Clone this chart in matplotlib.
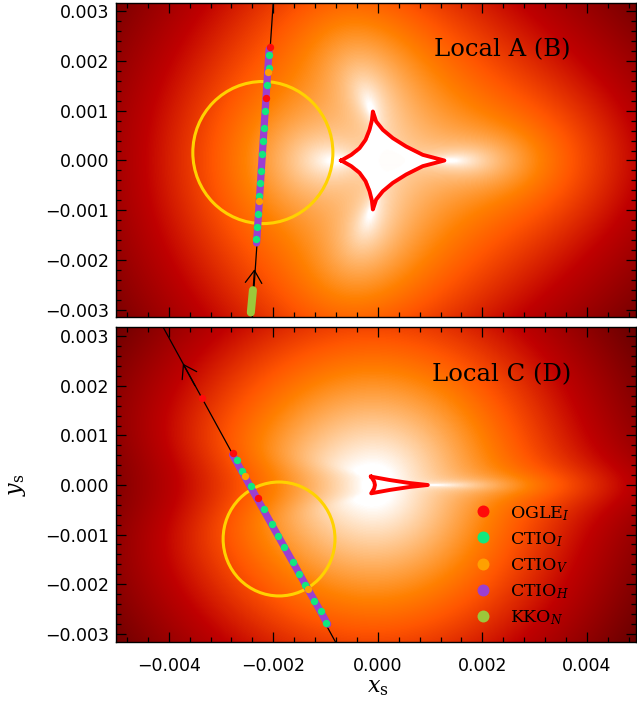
import numpy as np
import matplotlib
matplotlib.use("Agg")
import matplotlib.pyplot as plt
from matplotlib.patches import Ellipse
from matplotlib.colors import Normalize
from matplotlib.ticker import MultipleLocator, FuncFormatter

plt.rcParams['font.family'] = ['DejaVu Sans']
plt.rcParams['mathtext.fontset'] = 'dejavuserif'

# binary-lens models used for the background maps (s, q)
lens_top = (5.0, 0.0115)
lens_bot = (1.32, 7.9e-5)

# ---------------- top panel: Local A (B) ----------------
top_caustic_x = [-0.000700, -0.000509, -0.000350, -0.000235, -0.000159, -0.000114, -0.000095,
                 -0.000032, 0.000096, 0.000287, 0.000542, 0.000860, 0.001274,
                 0.000860, 0.000542, 0.000287, 0.000096, -0.000032,
                 -0.000095, -0.000114, -0.000159, -0.000235, -0.000350, -0.000509, -0.000700]
top_caustic_y = [0.0, 0.000114, 0.000248, 0.000416, 0.000618, 0.000805, 0.000986,
                 0.000785, 0.000618, 0.000450, 0.000282, 0.000114, 0.0,
                 -0.000114, -0.000282, -0.000450, -0.000618, -0.000785,
                 -0.000986, -0.000805, -0.000618, -0.000416, -0.000248, -0.000114, 0.0]
top_track_x = [-0.00200, -0.00241]
top_track_y = [0.00320, -0.00320]
top_arrow = (-0.00236, -0.00219)
top_source = (-0.00220, 0.00016, 0.00134, 0.00143)   # centre x, centre y, rx, ry
top_ogle_x = [-0.00207, -0.00214]
top_ogle_y = [0.00229, 0.00126]
top_ctioI_x = [-0.00208, -0.00209, -0.00212, -0.00215, -0.00218, -0.00219, -0.00221,
               -0.00223, -0.00225, -0.00227, -0.00229, -0.00231, -0.00233]
top_ctioI_y = [0.00213, 0.00187, 0.00152, 0.00100, 0.00066, 0.00040, 0.00014,
               -0.00021, -0.00046, -0.00072, -0.00108, -0.00133, -0.00158]
top_ctioV_x = [-0.00210, -0.00228]
top_ctioV_y = [0.00178, -0.00081]
top_ctioH_x = [-0.00208, -0.00232]
top_ctioH_y = [0.00224, -0.00166]
top_kko_x = [-0.00239, -0.00243]
top_kko_y = [-0.00261, -0.00306]
# colour level (0..1 of gist_heat) read at two map positions
top_probe_x = [-0.00500, 0.00230]
top_probe_y = [0.00310, 0.00108]
top_probe_c = [0.33, 0.72]

# ---------------- bottom panel: Local C (D) ----------------
bot_caustic_x = [-0.000127, 0.000223, 0.000606, 0.000956, 0.000606, 0.000223, -0.000127,
                 -0.000070, -0.000055, -0.000070, -0.000127]
bot_caustic_y = [0.000168, 0.000101, 0.000040, 0.0, -0.000040, -0.000101, -0.000168,
                 -0.000070, 0.0, 0.000070, 0.000168]
bot_track_x = [-0.00411, -0.00081]
bot_track_y = [0.00319, -0.00317]
bot_arrow = (-0.00373, 0.00245)
bot_source = (-0.00189, -0.00109, 0.00107, 0.00115)
bot_ogle_x = [-0.00336, -0.00278, -0.00230]
bot_ogle_y = [0.00176, 0.00065, -0.00027]
bot_ctioI_x = [-0.00270, -0.00259, -0.00242, -0.00218, -0.00202, -0.00191, -0.00180,
               -0.00162, -0.00151, -0.00139, -0.00123, -0.00108, -0.00099]
bot_ctioI_y = [0.00050, 0.00028, -0.00002, -0.00049, -0.00079, -0.00103, -0.00125,
               -0.00156, -0.00179, -0.00201, -0.00234, -0.00255, -0.00278]
bot_ctioV_x = [-0.00255, -0.00134]
bot_ctioV_y = [0.00019, -0.00209]
bot_ctioH_x = [-0.00278, -0.00096]
bot_ctioH_y = [0.00061, -0.00281]
bot_probe_x = [-0.00500, 0.00140]
bot_probe_y = [0.00150, 0.00150]
bot_probe_c = [0.377, 0.775]

labels = ['OGLE$_{I}$', 'CTIO$_{I}$', 'CTIO$_{V}$', 'CTIO$_{H}$', 'KKO$_{N}$']
colors = ['#ff0a0a', '#12e87e', '#ffa000', '#9b3fd0', '#9cc83a']

xlim = (-0.00501, 0.00494)
ylim_top = (-0.00315, 0.00317)
ylim_bot = (-0.00317, 0.00319)


def pmul(a, b):
    out = [0] * (len(a) + len(b) - 1)
    for i, ai in enumerate(a):
        for j, bj in enumerate(b):
            out[i + j] = out[i + j] + ai * bj
    return out


def padd(a, b):
    n = max(len(a), len(b))
    a = list(a) + [0] * (n - len(a))
    b = list(b) + [0] * (n - len(b))
    return [u + v for u, v in zip(a, b)]


def central_caustic(s, q, n=1200):
    m1, m2 = 1.0 / (1 + q), q / (1 + q)
    p1 = np.array([1.0, 0.0, 0.0], dtype=complex)
    p2 = np.polymul([1, -s], [1, -s]).astype(complex)
    base = np.polyadd(m1 * p2, m2 * p1)
    p12 = np.polymul(p1, p2)
    pts = []
    for phi in np.linspace(0, 2 * np.pi, n, endpoint=False):
        for z in np.roots(np.polyadd(base, -np.exp(1j * phi) * p12)):
            pts.append(z - m1 / np.conj(z) - m2 / (np.conj(z) - s))
    pts = np.array(pts)
    return pts[np.abs(pts) < 0.05]


def magnification(s, q, X, Y):
    # point-source magnification from the 5th order lens polynomial
    m1, m2 = 1.0 / (1 + q), q / (1 + q)
    z1, z2 = 0.0, s
    zeta = (np.asarray(X) + 1j * np.asarray(Y)).ravel()
    zb = np.conj(zeta)
    D = pmul([-z1, 1], [-z2, 1])
    N = padd([c * zb for c in D], [-m1 * z2 - m2 * z1, m1 + m2])
    A1 = padd(N, [-z1 * c for c in D])
    A2 = padd(N, [-z2 * c for c in D])
    P = padd(pmul(pmul([zeta, -1], A1), A2),
             padd([m1 * c for c in pmul(D, A2)], [m2 * c for c in pmul(D, A1)]))
    P = [np.broadcast_to(np.asarray(c, dtype=complex), zeta.shape) for c in P]
    M = np.zeros((zeta.size, 5, 5), dtype=complex)
    for k in range(5):
        M[:, 0, k] = -P[4 - k] / P[5]
    for k in range(1, 5):
        M[:, k, k - 1] = 1
    roots = np.linalg.eigvals(M)
    zc = np.conj(roots)
    res = np.abs(zeta[:, None] - roots + m1 / (zc - z1) + m2 / (zc - z2))
    rank = np.argsort(np.argsort(res, axis=1), axis=1)
    good = (res < 1e-5) | (rank < 3)
    det = 1 - np.abs(m1 / (zc - z1) ** 2 + m2 / (zc - z2) ** 2) ** 2
    A = np.sum(np.where(good, 1 / np.abs(det), 0), axis=1)
    return A.reshape(np.shape(X))


def fmt(v, pos):
    t = "%.3f" % v
    if t == "-0.000":
        t = "0.000"
    return t.replace("-", "\u2212")


def panel(ax, lens, ylim, caus_x, caus_y, track_x, track_y, arrow, source,
          ogle, ctioI, ctioV, ctioH, kko, probe, title):
    s, q = lens
    cc = central_caustic(s, q)
    dx = min(caus_x) - cc.real.min()
    xg = np.linspace(xlim[0], xlim[1], 520)
    yg = np.linspace(ylim[0], ylim[1], 315)
    X, Y = np.meshgrid(xg, yg)
    A = magnification(s, q, X - dx, Y)
    # colour runs with -1/A; scale fixed by the levels read at the probe points
    Ap = magnification(s, q, np.array(probe[0]) - dx, np.array(probe[1]))
    k = (probe[2][1] - probe[2][0]) / (1 / Ap[0] - 1 / Ap[1])
    c0 = probe[2][0] + k / Ap[0]
    vmin = -c0 / k
    norm = Normalize(vmin, vmin + 1 / k)
    ax.imshow(-1 / A, origin='lower', extent=(xlim[0], xlim[1], ylim[0], ylim[1]),
              aspect='auto', cmap='gist_heat', norm=norm,
              interpolation='bilinear', zorder=0)

    ax.plot(caus_x, caus_y, color='#ff0000', lw=2.8, solid_joinstyle='round', zorder=3)
    ax.add_patch(Ellipse((source[0], source[1]), 2 * source[2], 2 * source[3],
                         fill=False, ec='#ffd200', lw=2.2, zorder=2))
    ax.plot(track_x, track_y, color='k', lw=0.9, zorder=2)
    # direction arrow along the trajectory
    ux = track_x[0] - track_x[1]
    uy = track_y[0] - track_y[1]
    L = np.hypot(ux, uy)
    ax.annotate('', xy=arrow, xytext=(arrow[0] - 0.0005 * ux / L, arrow[1] - 0.0005 * uy / L),
                arrowprops=dict(arrowstyle='->, head_length=0.5, head_width=0.33',
                                lw=0.9, color='k', mutation_scale=18, shrinkA=0, shrinkB=0),
                zorder=4)

    ax.plot(ctioH[0], ctioH[1], color=colors[3], lw=5.2, solid_capstyle='round', zorder=4)
    if kko is not None:
        ax.plot(kko[0], kko[1], color=colors[4], lw=5.8, solid_capstyle='round', zorder=4)
    ax.plot(ctioI[0], ctioI[1], 'o', color=colors[1], ms=5.3, mew=0, zorder=5)
    ax.plot(ctioV[0], ctioV[1], 'o', color=colors[2], ms=5.3, mew=0, zorder=6)
    ax.plot(ogle[0], ogle[1], 'o', color=colors[0], ms=5.3, mew=0, zorder=6)

    ax.text(0.742, 0.85, title, transform=ax.transAxes, ha='center', va='center',
            fontsize=17.5, family='DejaVu Serif', color='k', zorder=7)

    ax.set_xlim(xlim)
    ax.set_ylim(ylim)
    ax.xaxis.set_major_locator(MultipleLocator(0.002))
    ax.xaxis.set_minor_locator(MultipleLocator(0.0004))
    ax.yaxis.set_major_locator(MultipleLocator(0.001))
    ax.yaxis.set_minor_locator(MultipleLocator(0.0002))
    ax.xaxis.set_major_formatter(FuncFormatter(fmt))
    ax.yaxis.set_major_formatter(FuncFormatter(fmt))
    ax.tick_params(which='both', direction='in', top=True, right=True, width=0.9,
                   labelsize=12.5, zorder=8)
    ax.tick_params(which='major', length=7)
    ax.tick_params(which='minor', length=3.5)
    ax.tick_params(axis='y', pad=5)
    ax.tick_params(axis='x', pad=11)
    for sp in ax.spines.values():
        sp.set_linewidth(1.0)
        sp.set_zorder(8)


fig = plt.figure(figsize=(6.37, 7.08), dpi=100)
ax1 = fig.add_axes([116 / 637, 1 - 317 / 708, 520 / 637, 314 / 708])
ax2 = fig.add_axes([116 / 637, 1 - 642 / 708, 520 / 637, 315 / 708])

panel(ax1, lens_top, ylim_top, top_caustic_x, top_caustic_y, top_track_x, top_track_y,
      top_arrow, top_source, (top_ogle_x, top_ogle_y), (top_ctioI_x, top_ctioI_y),
      (top_ctioV_x, top_ctioV_y), (top_ctioH_x, top_ctioH_y), (top_kko_x, top_kko_y),
      (top_probe_x, top_probe_y, top_probe_c), 'Local A (B)')
panel(ax2, lens_bot, ylim_bot, bot_caustic_x, bot_caustic_y, bot_track_x, bot_track_y,
      bot_arrow, bot_source, (bot_ogle_x, bot_ogle_y), (bot_ctioI_x, bot_ctioI_y),
      (bot_ctioV_x, bot_ctioV_y), (bot_ctioH_x, bot_ctioH_y), None,
      (bot_probe_x, bot_probe_y, bot_probe_c), 'Local C (D)')
ax1.tick_params(labelbottom=False)

# legend drawn in the lower panel
for i, (lab, col) in enumerate(zip(labels, colors)):
    yy = 0.415 - i * 0.083
    ax2.plot([0.706], [yy], 'o', color=col, ms=8.6, mew=0, transform=ax2.transAxes,
             clip_on=False, zorder=7)
    ax2.text(0.758, yy - 0.022, lab, transform=ax2.transAxes, ha='left', va='baseline',
             fontsize=12.5, family='DejaVu Serif', color='k', zorder=7)

ax2.set_xlabel(r'$x_{\mathrm{s}}$', fontsize=16)
ax2.set_ylabel(r'$y_{\mathrm{s}}$', fontsize=16)
ax2.xaxis.set_label_coords(0.504, -0.115)
ax2.yaxis.set_label_coords(-0.17, 0.5)

fig.savefig("out.png", dpi=100)
